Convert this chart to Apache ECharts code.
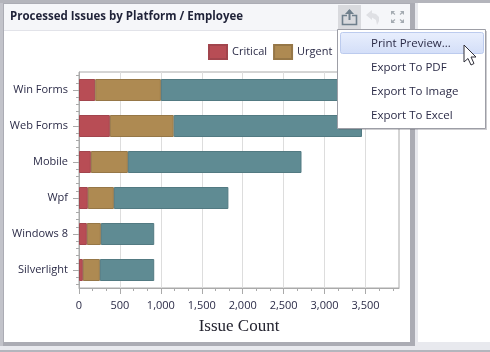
<!DOCTYPE html>
<html>
<head>
<meta charset="utf-8">
<title>Processed Issues by Platform / Employee</title>
<style>
  html, body { margin: 0; padding: 0; background: #fff; }
  #chart { width: 490px; height: 352px; }
</style>
<script src="https://cdn.jsdelivr.net/npm/echarts@6/dist/echarts.min.js"></script>
</head>
<body>
<div id="chart"></div>
<script>
// values
var platforms = ['Win Forms', 'Web Forms', 'Mobile', 'Wpf', 'Windows 8', 'Silverlight'];
var critical = [198, 377, 145, 108, 96, 47];
var urgent = [802, 780, 452, 318, 171, 208];
// first bar runs under the popup menu, its end is a guess
var normal = [2300, 2300, 2121, 1399, 652, 664];

var xTicks = [0, 500, 1000, 1500, 2000, 2500, 3000, 3500];
var xMinorTicks = [167, 333, 667, 833, 1167, 1333, 1667, 1833, 2167, 2333, 2667, 2833, 3167, 3333, 3667, 3833];
var yMinorTicks = [0.5, 1.5, 2.5, 3.5, 4.5, 5.5, 6.5, 7.5, 8.5, 9.5, 10.5, 11.5, 12.5, 13.5, 14.5,
  15.5, 16.5, 17.5, 18.5, 19.5, 20.5, 21.5, 22.5, 23.5, 24.5, 25.5, 26.5, 27.5, 28.5, 29.5];
var menuItems = ['Print Preview...', 'Export To PDF', 'Export To Image', 'Export To Excel'];

var uiFont = '"Open Sans", "Noto Sans", sans-serif';
var textColor = '#2c2c48';
var axisColor = '#aaaaaa';

function rect(x, y, w, h, fill, z, extra) {
  var el = { type: 'rect', shape: { x: x, y: y, width: w, height: h }, style: { fill: fill }, z: z, silent: true };
  return Object.assign(el, extra || {});
}
function line(x1, y1, x2, y2, color, width, z) {
  return { type: 'line', shape: { x1: x1, y1: y1, x2: x2, y2: y2 }, style: { stroke: color, lineWidth: width || 1 }, z: z, silent: true };
}

// dashboard panel around the chart
var panel = [
  rect(0, 0, 490, 352, '#e8e9ee', -10),
  rect(0, 0, 490, 3, '#b4b5bc', -9),
  rect(0, 3, 4, 343, '#c2c3ca', -9),
  rect(3, 3, 412, 343, '#abacb4', -9),
  rect(4, 4, 406, 338, '#ffffff', -8),
  rect(4, 4, 406, 26, '#f5f6f9', -7),
  rect(4, 30, 406, 1, '#e2e3e9', -7),
  rect(418, 3, 72, 339, '#ffffff', -8),
  rect(0, 350, 490, 2, '#b4b5bd', -9),
  {
    type: 'text', z: 5, silent: true, x: 10, y: 11,
    style: { text: 'Processed Issues by Platform / Employee', fill: '#1f2238', font: 'bold 11.5px ' + uiFont }
  }
];

// toolbar icons
var shareColor = '#6f7f8c';
var toolbar = [
  rect(338, 5, 23, 24, '#d9dade', 5),
  rect(342.5, 15.5, 14, 9, 'none', 6, { style: { fill: 'none', stroke: shareColor, lineWidth: 1.6 } }),
  rect(347, 12, 5, 8, '#d9dade', 6),
  line(349.5, 10, 349.5, 20, shareColor, 2, 7),
  { type: 'polygon', shape: { points: [[345, 14], [349.5, 9], [354, 14]] }, style: { fill: shareColor }, z: 7, silent: true },
  {
    type: 'polygon', z: 6, silent: true,
    shape: { points: [[366, 15], [372, 10], [372, 13], [376, 14], [379, 17], [379, 21], [377, 25], [376, 20], [372, 17.5], [372, 20]] },
    style: { fill: '#dfe0e4' }
  }
];
var expandCorners = [[391, 11, 1, 1], [404, 11, -1, 1], [391, 23, 1, -1], [404, 23, -1, -1]];
expandCorners.forEach(function (c) {
  toolbar.push({
    type: 'polygon', z: 6, silent: true,
    shape: { points: [[c[0], c[1]], [c[0] + 4 * c[2], c[1]], [c[0], c[1] + 4 * c[3]]] },
    style: { fill: '#a5abb2' }
  });
  toolbar.push(line(c[0] + 1 * c[2], c[1] + 1 * c[3], c[0] + 4 * c[2], c[1] + 3.5 * c[3], '#a5abb2', 1.2, 6));
});

// popup menu, sits on top of the chart
var menu = [
  rect(339, 31, 148, 99, 'rgba(90,90,100,0.3)', 50),
  rect(337.5, 29.5, 148, 99, '#ffffff', 51, { style: { fill: '#ffffff', stroke: '#9d9ea6', lineWidth: 1 } }),
  {
    type: 'rect', z: 52, silent: true,
    shape: { x: 340.5, y: 32.5, width: 143, height: 21, r: 2 },
    style: {
      stroke: '#bccbee', lineWidth: 1,
      fill: new echarts.graphic.LinearGradient(0, 0, 0, 1, [
        { offset: 0, color: '#e9effd' }, { offset: 1, color: '#d3def8' }
      ])
    }
  }
];
menuItems.forEach(function (label, i) {
  menu.push({
    type: 'text', z: 53, silent: true, x: 371, y: 38 + i * 24,
    style: { text: label, fill: textColor, font: '11.5px ' + uiFont }
  });
});
// mouse pointer
menu.push({
  type: 'polygon', z: 54, silent: true,
  shape: { points: [[464, 45], [464, 62], [468, 58.5], [471, 65], [474, 63.5], [471, 57], [476, 57]] },
  style: { fill: '#ffffff', stroke: '#30303a', lineWidth: 1 }
});

function barSeries(name, values, fill, border) {
  return {
    name: name,
    type: 'bar',
    stack: 'issues',
    barWidth: 22,
    data: values,
    itemStyle: { color: fill, borderColor: border, borderWidth: 1, borderRadius: 0 }
  };
}

var chart = echarts.init(document.getElementById('chart'), null, { renderer: 'canvas' });
chart.setOption({
  animation: false,
  backgroundColor: '#ffffff',
  textStyle: { fontFamily: uiFont },
  graphic: { elements: panel.concat(toolbar, menu) },
  legend: {
    left: 203, top: 39, itemWidth: 18, itemHeight: 14, itemGap: 6, icon: 'rect',
    data: ['Critical', 'Urgent', 'Normal'],
    textStyle: { color: textColor, fontSize: 11, fontFamily: uiFont }
  },
  grid: { left: 79, right: 91, top: 72, bottom: 64, show: true, borderColor: axisColor, borderWidth: 1, backgroundColor: 'transparent' },
  xAxis: [
    {
      type: 'value', min: 0, max: 3909, interval: 500, position: 'bottom',
      name: 'Issue Count', nameLocation: 'middle', nameGap: 30,
      nameTextStyle: { fontFamily: '"Liberation Serif", serif', fontSize: 17, color: '#23232f' },
      axisLine: { show: true, lineStyle: { color: axisColor } },
      axisTick: { show: true, length: 6, customValues: xTicks, lineStyle: { color: axisColor } },
      axisLabel: { customValues: xTicks, margin: 12, color: textColor, fontSize: 11, fontFamily: uiFont },
      splitLine: { show: true, lineStyle: { color: '#dddddd' } }
    },
    {
      type: 'value', min: 0, max: 3909, position: 'bottom',
      axisLine: { show: false },
      axisTick: { show: true, length: 3, customValues: xMinorTicks, lineStyle: { color: axisColor } },
      axisLabel: { show: false },
      splitLine: { show: false }
    }
  ],
  yAxis: [
    {
      type: 'category', data: platforms, inverse: true, position: 'left',
      axisLine: { show: true, lineStyle: { color: axisColor } },
      axisTick: { show: true, length: 6, alignWithLabel: true, lineStyle: { color: axisColor } },
      axisLabel: { margin: 11, color: textColor, fontSize: 11, fontFamily: uiFont },
      splitLine: { show: false }
    },
    {
      type: 'value', min: 0, max: 30, position: 'left',
      axisLine: { show: false },
      axisTick: { show: true, length: 3, customValues: yMinorTicks, lineStyle: { color: axisColor } },
      axisLabel: { show: false },
      splitLine: { show: false }
    }
  ],
  series: [
    barSeries('Critical', critical, '#b84d55', '#a2454d'),
    barSeries('Urgent', urgent, '#ae8a52', '#967747'),
    barSeries('Normal', normal, '#5f8b93', '#527a82')
  ]
});
window.addEventListener('resize', function () { chart.resize(); });
</script>
</body>
</html>
